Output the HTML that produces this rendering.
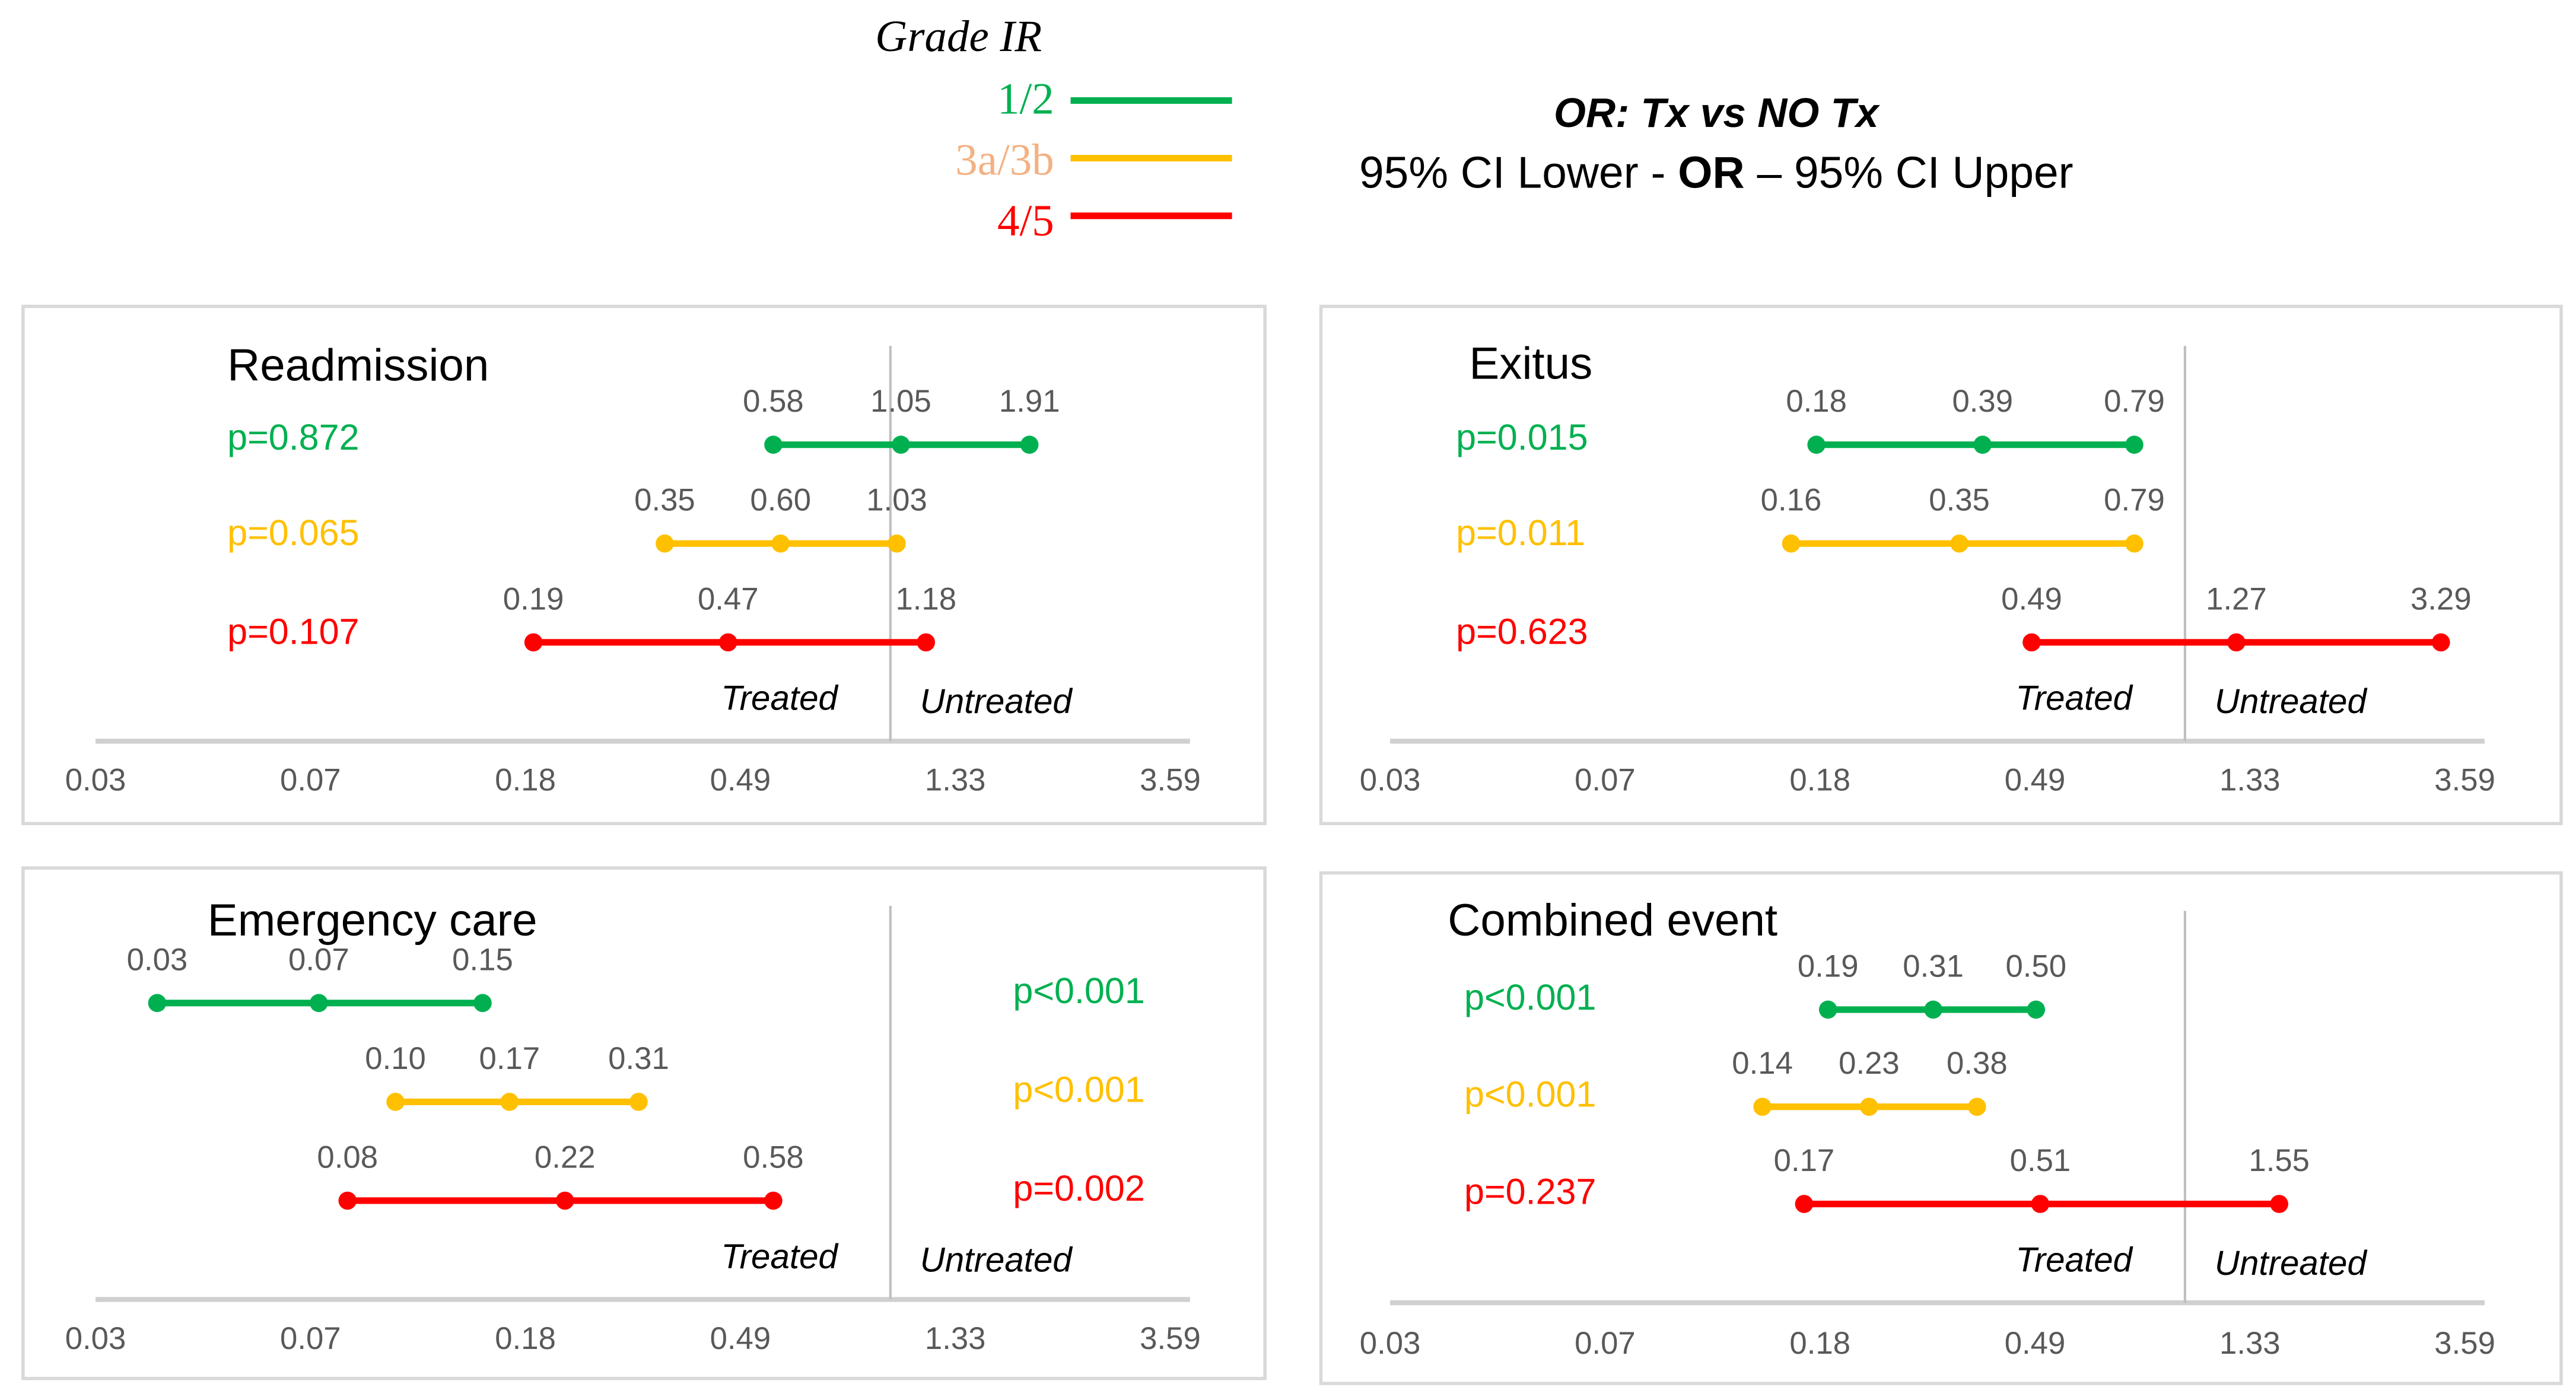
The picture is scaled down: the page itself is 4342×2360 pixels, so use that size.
<!DOCTYPE html>
<html><head><meta charset="utf-8"><style>
html,body{margin:0;padding:0;background:#fff;}
svg{display:block;}
text{font-family:"Liberation Sans",sans-serif;}
</style></head><body>
<svg id="fig" width="4342" height="2360" viewBox="0 0 1564 850" xmlns="http://www.w3.org/2000/svg">
<g>
<text x="582" y="31" text-anchor="middle" font-style="italic" font-size="27" fill="#000" style="font-family:'Liberation Serif',serif">Grade IR</text>
<text x="640" y="69" text-anchor="end" font-size="27" fill="#00b050" style="font-family:'Liberation Serif',serif">1/2</text>
<line x1="650" y1="61" x2="748" y2="61" stroke="#00b050" stroke-width="4"/>
<text x="640" y="106" text-anchor="end" font-size="27" fill="#f4b183" style="font-family:'Liberation Serif',serif">3a/3b</text>
<line x1="650" y1="96" x2="748" y2="96" stroke="#ffc000" stroke-width="4"/>
<text x="640" y="143" text-anchor="end" font-size="27" fill="#ff0000" style="font-family:'Liberation Serif',serif">4/5</text>
<line x1="650" y1="131" x2="748" y2="131" stroke="#ff0000" stroke-width="4"/>
<text x="1042" y="77" text-anchor="middle" font-size="25" font-weight="bold" font-style="italic" fill="#000">OR: Tx vs NO Tx</text>
<text x="1042" y="114" text-anchor="middle" font-size="27" fill="#000">95% CI Lower - <tspan font-weight="bold">OR</tspan> – 95% CI Upper</text>
</g>
<g id="panels"></g>
</svg>
<script>
var tickLabels = ["0.03","0.07","0.18","0.49","1.33","3.59"];
var groups = ["1/2","3a/3b","4/5"];
var colors = ["#00b050","#ffc000","#ff0000"];
var pColors = ["#00b050","#ffc000","#ff0000"];
var titles = ["Readmission","Exitus","Emergency care","Combined event"];
var lower = [[0.58,0.35,0.19],[0.18,0.16,0.49],[0.033,0.10,0.08],[0.19,0.14,0.17]];
var orVals = [[1.05,0.60,0.47],[0.39,0.35,1.27],[0.07,0.17,0.22],[0.31,0.23,0.51]];
var upper = [[1.91,1.03,1.18],[0.79,0.79,3.29],[0.15,0.31,0.58],[0.50,0.38,1.55]];
var pvals = [["p=0.872","p=0.065","p=0.107"],["p=0.015","p=0.011","p=0.623"],["p<0.001","p<0.001","p=0.002"],["p<0.001","p<0.001","p=0.237"]];

var NS="http://www.w3.org/2000/svg";
var root=document.getElementById('panels');
var L=[
 {bx:14,by:186,bw:754,bh:314,x0:56,rows:[270,330,390],axY:450,tickY:480,vTop:210,tx:138,ty:222,px:138,trY:431},
 {bx:802,by:186,bw:753,bh:314,x0:842,rows:[270,330,390],axY:450,tickY:480,vTop:210,tx:892,ty:221,px:884,trY:431},
 {bx:14,by:527,bw:754,bh:310,x0:56,rows:[609,669,729],axY:789,tickY:819,vTop:550,tx:126,ty:559,px:615,trY:770},
 {bx:802,by:530,bw:753,bh:310,x0:842,rows:[613,672,731],axY:791,tickY:822,vTop:553,tx:879,ty:559,px:889,trY:772}
];
var STEP=130.5;
function xs(p,v){return p.x0+3*STEP+STEP*Math.log(v/0.49);}
function mk(tag,attrs,parent){var e=document.createElementNS(NS,tag);for(var k in attrs)e.setAttribute(k,attrs[k]);(parent||root).appendChild(e);return e;}
function slug(s){return s.toLowerCase().replace(/[^a-z0-9]+/g,'-').replace(/^-|-$/g,'');}
for(var i=0;i<4;i++){
 var p=L[i];
 var g=mk('g',{});
 
 
 var box=mk('rect',{x:p.bx,y:p.by,width:p.bw,height:p.bh,fill:'#fff',stroke:'#d9d9d9','stroke-width':2},g);
 
 
 var t=mk('text',{x:p.tx,y:p.ty+9,'font-size':27.5,fill:'#000'},g);t.textContent=titles[i];
 
 
 var ax=mk('line',{x1:p.x0+2,y1:p.axY,x2:p.x0+5*STEP+14,y2:p.axY,stroke:'#d0d0d0','stroke-width':3},g);
 
 
 for(var k=0;k<tickLabels.length;k++){
  var tl=mk('text',{x:p.x0+2+k*STEP,y:p.tickY,'text-anchor':'middle','font-size':19,fill:'#595959'},g);
  tl.textContent=tickLabels[k];
  
  
 }
 var vx=xs(p,1);
 var vl=mk('line',{x1:vx,y1:p.vTop,x2:vx,y2:p.axY,stroke:'#bfbfbf','stroke-width':1.5},g);
 
 
 var tr=mk('text',{x:vx-32,y:p.trY,'text-anchor':'end','font-size':21,'font-style':'italic',fill:'#000'},g);tr.textContent='Treated';
 
 
 var un=mk('text',{x:vx+18,y:p.trY+2,'text-anchor':'start','font-size':21,'font-style':'italic',fill:'#000'},g);un.textContent='Untreated';
 
 
 for(var r=0;r<3;r++){
  var y=p.rows[r];
  var a=xs(p,lower[i][r]),m=xs(p,orVals[i][r]),b=xs(p,upper[i][r]);
  var ln=mk('line',{x1:a,y1:y,x2:b,y2:y,stroke:colors[r],'stroke-width':4},g);
  
  
  var vals=[lower[i][r],orVals[i][r],upper[i][r]],xsv=[a,m,b];
  for(var q=0;q<3;q++){
   var c=mk('circle',{cx:xsv[q],cy:y,r:5.5,fill:colors[r]},g);
   
   
   var vt=mk('text',{x:xsv[q],y:y-20,'text-anchor':'middle','font-size':19,fill:'#595959'},g);
   vt.textContent=vals[q].toFixed(2);
   
   
  }
  var pt=mk('text',{x:p.px,y:(i<2?[265,323,383][r]:p.rows[r]-8)+8,'text-anchor':'start','font-size':22,fill:pColors[r]},g);
  pt.textContent=pvals[i][r];
  
  
 }
}
</script>
</body></html>
